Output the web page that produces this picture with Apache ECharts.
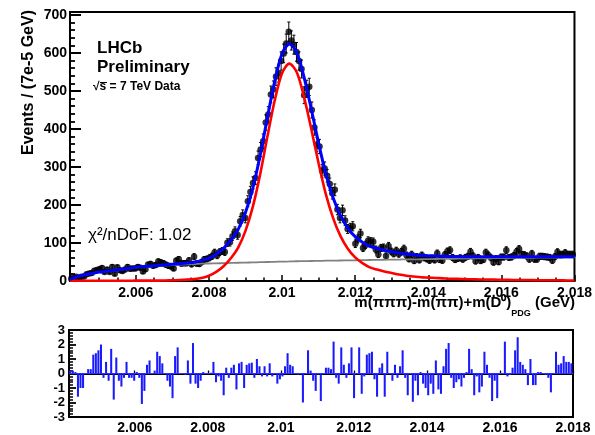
<!DOCTYPE html>
<html><head><meta charset="utf-8">
<script src="https://cdn.jsdelivr.net/npm/echarts@6/dist/echarts.min.js"></script>
<style>html,body{margin:0;padding:0;background:#fff}#c{width:595px;height:435px}</style>
</head><body><div id="c"></div>
<script>
// ---- data ----
const binLow = 2.0042;
const binWidth = 0.00007;
const counts = [
  6, 9, 11, 7, 11, 12, 18, 20, 21, 27,
  29, 31, 34, 24, 30, 24, 37, 19, 36, 28,
  26, 30, 37, 32, 33, 33, 37, 35, 25, 31,
  43, 45, 40, 42, 51, 49, 47, 43, 40, 38,
  33, 53, 57, 46, 47, 47, 54, 44, 64, 46,
  45, 50, 57, 58, 61, 65, 75, 67, 76, 79,
  76, 101, 102, 118, 131, 121, 157, 174, 166, 210,
  234, 258, 271, 324, 346, 368, 417, 438, 491, 504,
  538, 547, 579, 599, 625, 656, 633, 622, 603, 579,
  558, 489, 506, 511, 450, 404, 359, 354, 290, 296,
  277, 255, 231, 240, 188, 166, 186, 159, 137, 140,
  144, 98, 111, 125, 87, 95, 106, 104, 103, 83,
  70, 87, 88, 66, 92, 78, 72, 80, 71, 77,
  85, 68, 58, 70, 53, 64, 55, 68, 61, 58,
  54, 60, 55, 73, 56, 54, 69, 78, 81, 62,
  56, 59, 61, 57, 62, 65, 77, 66, 52, 62,
  53, 56, 75, 68, 61, 49, 59, 50, 63, 63,
  81, 62, 63, 67, 77, 84, 70, 69, 66, 57,
  72, 57, 57, 65, 65, 64, 63, 62, 54, 64,
  76, 69, 70, 74, 70, 70, 70
];
const pulls = [
  0.2, 0.2, 0.1, -1.6, -1.0, -1.0, 0.0, 0.3, 0.3, 1.3,
  1.4, 1.6, 2.0, -0.3, 0.8, -0.5, 1.7, -1.8, 1.1, -0.5,
  -0.9, -0.3, 0.8, -0.3, -0.3, -0.5, 0.1, -0.3, -2.1, -1.2,
  0.6, 0.9, 0.0, 0.2, 1.5, 1.2, 0.7, 0.0, -0.5, -0.9,
  -1.7, 1.2, 1.8, 0.0, 0.0, -0.1, 0.9, -0.7, 2.1, -0.7,
  -1.0, -0.5, 0.1, 0.0, 0.0, 0.05, 0.8, -0.6, -0.2, -0.5,
  -1.5, 0.4, -0.3, 0.4, 0.6, -1.1, 0.7, 0.8, -1.0, 0.6,
  0.7, 0.75, -0.3, 1.0, 0.5, -0.2, 0.5, -0.2, 0.7, -0.2,
  0.0, -0.7, -0.4, -0.2, 0.5, 1.4, 0.6, 0.5, 0.0, -0.1,
  0.0, -2.0, 0.0, 1.6, 0.2, -0.5, -1.2, 0.0, -1.9, 0.0,
  0.4, 0.4, 0.3, 2.2, -0.3, -0.7, 1.8, 0.6, -0.3, 0.7,
  1.8, -1.7, 0.0, 1.8, -1.4, -0.2, 1.3, 1.4, 1.5, -0.4,
  -1.6, 0.4, 0.7, -1.6, 1.5, 0.0, -0.5, 0.6, -0.3, 0.5,
  1.6, -0.3, -1.5, 0.0, -1.95, -0.5, -1.5, 0.1, -0.7, -1.0,
  -1.5, -0.7, -1.4, 0.9, -1.1, -1.4, 0.5, 1.7, 2.1, -0.3,
  -1.0, -0.6, -0.4, -0.9, -0.3, 0.1, 1.7, 0.3, -1.5, -0.2,
  -1.3, -0.9, 1.5, 0.6, -0.3, -1.9, -0.5, -1.7, 0.0, 0.0,
  2.2, -0.2, -0.1, 0.4, 1.6, 2.5, 0.8, 0.6, 0.3, -0.8,
  1.0, -0.8, -0.8, 0.1, 0.1, 0.0, -0.1, -0.3, -1.3, 0.0,
  1.5, 0.6, 0.7, 1.2, 0.8, 0.8, 0.7
];
const curveStart = 2.0042;
const curveStep = 0.0002;
const bkgCurve = [
  4, 11, 16, 19.5, 23, 25.5, 28, 30.5, 32.5, 35,
  37, 38.5, 40, 41, 42, 43, 44, 44.5, 45.5, 46,
  46.5, 47, 47.5, 48, 48.5, 49, 49.5, 50, 50.5, 51,
  51.5, 52, 52.3, 52.7, 53, 53.4, 53.7, 54, 54.3, 54.6,
  55, 55.3, 55.6, 55.9, 56.2, 56.5, 56.8, 57, 57.3, 57.6,
  57.9, 58.1, 58.4, 58.7, 59, 59.2, 59.5, 59.7, 60, 60.2,
  60.5, 60.7, 60.9, 61.1, 61.3, 61.5, 61.6, 61.8, 62, 62.1
];
const sigCurve = [
  0.5, 0.5, 0.5, 0.5, 0.5, 0.5, 0.5, 0.5, 0.5, 1,
  1, 1, 1, 1.5, 2, 2.5, 3.5, 5, 8, 14,
  24, 39, 60, 88, 132, 195, 280, 380, 475, 547,
  572, 550, 485, 400, 310, 228, 165, 118, 85, 62,
  47, 36, 30, 25, 21, 17, 14, 12, 10, 9,
  8, 7, 6, 5.5, 5, 4.5, 4, 3.5, 3.5, 3,
  3, 2.5, 2.5, 2.5, 2, 2, 2, 2, 1.5, 1.5
];
const totCurve = [
  4.5, 11.5, 16.5, 20, 23.5, 26, 28.5, 31, 33, 36,
  38, 39.5, 41, 42.5, 44, 45.5, 47.5, 49.5, 53.5, 60,
  70.5, 86, 107.5, 136, 180.5, 244, 329.5, 430, 525.5, 598,
  623.5, 602, 537.3, 452.7, 363, 281.4, 218.7, 172, 139.3, 116.6,
  102, 91.3, 85.6, 80.9, 77.2, 73.5, 70.8, 69, 67.3, 66.6,
  65.9, 65.1, 64.4, 64.2, 64, 63.9, 63.8, 63.7, 63.7, 63.6,
  63.6, 63.6, 63.6, 63.6, 63.6, 63.6, 63.6, 63.7, 63.7, 63.7
];
const xTickValues = [2.006, 2.008, 2.010, 2.012, 2.014, 2.016, 2.018];
const yTickValues = [0, 100, 200, 300, 400, 500, 600, 700];
const pullTickValues = [-3, -2, -1, 0, 1, 2, 3];
const xMin = 2.0042, xMax = 2.018, yMax = 708;

// ---- build ----
const FF = "'Liberation Sans', Arial, Helvetica, sans-serif";
const binX = i => binLow + binWidth * (i + 0.5);
const pts = counts.map((c, i) => [binX(i), c]);
const errs = counts.map((c, i) => [binX(i), c - Math.sqrt(c), c + Math.sqrt(c)]);
const pullData = pulls.map((p, i) => [binX(i), p]);
const curveXY = arr => arr.map((v, j) => [curveStart + curveStep * j, v]);

const minorX = [];
for (let k = 0; k <= 28; k++) {
  const v = +(2.0045 + 0.0005 * k).toFixed(4);
  if (!xTickValues.some(t => Math.abs(t - v) < 1e-7)) minorX.push(v);
}
const minorY = [];
for (let v = 20; v < 700; v += 20) if (v % 100) minorY.push(v);

const fmtX = v => String(parseFloat((+v).toFixed(3)));
const lblStyle = {color: '#000', fontFamily: FF, fontWeight: 'bold', fontSize: 14};
const blk = {color: '#000', width: 2};

// x-axis title pieces, laid out right-to-left from the right edge
const ctx = document.createElement('canvas').getContext('2d');
const titleParts = [
  {t: 'm(\u03C0\u03C0\u03C0)-m(\u03C0\u03C0)+m(D\u2070)', f: 'bold 15px ' + FF, y: 303},
  {t: 'PDG', f: 'bold 9px ' + FF, y: 314},
  {t: ' (GeV)', f: 'bold 15px ' + FF, y: 303}
];
let xr = 575;
const titleGraphics = [];
for (let k = titleParts.length - 1; k >= 0; k--) {
  const p = titleParts[k];
  ctx.font = p.f;
  const w = ctx.measureText(p.t).width;
  xr -= w;
  titleGraphics.push({type: 'text', x: xr, y: p.y,
    style: {text: p.t, font: p.f, fill: '#000', textAlign: 'left', textVerticalAlign: 'middle'}});
}

const chart = echarts.init(document.getElementById('c'), null, {renderer: 'canvas'});
chart.setOption({
  animation: false,
  backgroundColor: '#fff',
  grid: [
    {left: 70, right: 20, top: 12, height: 269, show: true, borderColor: '#000', borderWidth: 2, backgroundColor: 'transparent'},
    {left: 69, right: 22, top: 330, height: 88, show: true, borderColor: '#000', borderWidth: 2, backgroundColor: 'transparent'}
  ],
  xAxis: [
    {gridIndex: 0, type: 'value', min: xMin, max: xMax, axisLine: {lineStyle: blk},
     axisTick: {inside: true, length: 6, customValues: xTickValues, lineStyle: {color: '#000', width: 1.5}},
     axisLabel: Object.assign({customValues: xTickValues, formatter: fmtX, margin: 5}, lblStyle),
     splitLine: {show: false}},
    {gridIndex: 0, type: 'value', min: xMin, max: xMax, position: 'bottom', axisLine: {show: false},
     axisTick: {inside: true, length: 3.5, customValues: minorX, lineStyle: {color: '#000', width: 1.5}},
     axisLabel: {show: false}, splitLine: {show: false}},
    {gridIndex: 1, type: 'value', min: xMin, max: xMax, axisLine: {lineStyle: blk},
     axisTick: {inside: true, length: 3, customValues: xTickValues, lineStyle: {color: '#000', width: 1.3}},
     axisLabel: Object.assign({customValues: xTickValues, formatter: fmtX, margin: 4}, lblStyle),
     splitLine: {show: false}}
  ],
  yAxis: [
    {gridIndex: 0, type: 'value', min: 0, max: yMax, axisLine: {show: true, lineStyle: blk},
     axisTick: {show: true, inside: true, length: 11, customValues: yTickValues, lineStyle: {color: '#000', width: 2}},
     axisLabel: Object.assign({customValues: yTickValues, margin: 3}, lblStyle),
     splitLine: {show: false}},
    {gridIndex: 0, type: 'value', min: 0, max: yMax, position: 'left', axisLine: {show: false},
     axisTick: {show: true, inside: true, length: 5, customValues: minorY, lineStyle: {color: '#000', width: 1.8}},
     axisLabel: {show: false}, splitLine: {show: false}},
    {gridIndex: 1, type: 'value', min: -3, max: 3, interval: 1, axisLine: {show: true, lineStyle: blk},
     axisTick: {show: true, inside: true, length: 7, lineStyle: {color: '#000', width: 1.8}},
     minorTick: {show: true, splitNumber: 5, length: 4, lineStyle: {color: '#000', width: 1.5}},
     axisLabel: Object.assign({customValues: pullTickValues, margin: 4}, lblStyle, {fontSize: 13}),
     splitLine: {show: false}, minorSplitLine: {show: false}}
  ],
  series: [
    {type: 'custom', xAxisIndex: 0, yAxisIndex: 0, data: errs, clip: true, z: 2,
     encode: {x: 0, y: [1, 2]},
     renderItem: (params, api) => {
       const x = api.value(0);
       const a = api.coord([x, api.value(1)]), b = api.coord([x, api.value(2)]);
       return {type: 'group', children: [
         {type: 'line', shape: {x1: a[0], y1: a[1], x2: b[0], y2: b[1]}, style: {stroke: '#000', lineWidth: 1}},
         {type: 'line', shape: {x1: b[0] - 1.5, y1: b[1], x2: b[0] + 1.5, y2: b[1]}, style: {stroke: '#000', lineWidth: 1}},
         {type: 'line', shape: {x1: a[0] - 1.5, y1: a[1], x2: a[0] + 1.5, y2: a[1]}, style: {stroke: '#000', lineWidth: 1}}
       ]};
     }},
    {type: 'scatter', xAxisIndex: 0, yAxisIndex: 0, data: pts, symbol: 'circle', symbolSize: 6.5,
     itemStyle: {color: '#000'}, z: 3, clip: true},
    {type: 'line', xAxisIndex: 0, yAxisIndex: 0, data: curveXY(bkgCurve), showSymbol: false, smooth: 0.3,
     lineStyle: {color: '#808080', width: 1.8}, z: 4, clip: true},
    {type: 'line', xAxisIndex: 0, yAxisIndex: 0, data: curveXY(sigCurve), showSymbol: false, smooth: 0.3,
     lineStyle: {color: '#ff0000', width: 2.6}, z: 5, clip: true},
    {type: 'line', xAxisIndex: 0, yAxisIndex: 0, data: curveXY(totCurve), showSymbol: false, smooth: 0.3,
     lineStyle: {color: '#0000ff', width: 3}, z: 6, clip: true},
    {type: 'line', xAxisIndex: 2, yAxisIndex: 2, data: [[xMin, 0], [xMax, 0]], showSymbol: false,
     lineStyle: {color: '#3a3aff', width: 1.2}, z: 2},
    {type: 'custom', xAxisIndex: 2, yAxisIndex: 2, data: pullData, clip: true, z: 3,
     encode: {x: 0, y: 1},
     renderItem: (params, api) => {
       const x = api.value(0), v = api.value(1);
       const p0 = api.coord([x - binWidth * 0.4, 0]);
       const p1 = api.coord([x + binWidth * 0.4, v]);
       return {type: 'rect', shape: {x: p0[0], y: Math.min(p0[1], p1[1]), width: p1[0] - p0[0], height: Math.abs(p1[1] - p0[1])},
               style: {fill: '#1a1aff'}};
     }}
  ],
  graphic: [
    {type: 'text', x: 97, y: 40, style: {text: 'LHCb', font: 'bold 17px ' + FF, fill: '#000', textAlign: 'left', textVerticalAlign: 'top'}},
    {type: 'text', x: 97, y: 59, style: {text: 'Preliminary', font: 'bold 17px ' + FF, fill: '#000', textAlign: 'left', textVerticalAlign: 'top'}},
    {type: 'text', x: 93, y: 81, style: {text: '\u221As = 7 TeV Data', font: 'bold 12px ' + FF, fill: '#000', textAlign: 'left', textVerticalAlign: 'top'}},
    {type: 'line', shape: {x1: 100, y1: 82.5, x2: 107, y2: 82.5}, style: {stroke: '#000', lineWidth: 1}},
    {type: 'text', x: 88, y: 227, style: {text: '\u03C7\u00B2/nDoF: 1.02', font: '17px ' + FF, fill: '#000', textAlign: 'left', textVerticalAlign: 'top'}},
    {type: 'text', x: 29, y: 10, rotation: Math.PI / 2,
     style: {text: 'Events / (7e-5 GeV)', font: 'bold 16px ' + FF, fill: '#000', textAlign: 'right', textVerticalAlign: 'middle'}}
  ].concat(titleGraphics)
});
</script></body></html>
